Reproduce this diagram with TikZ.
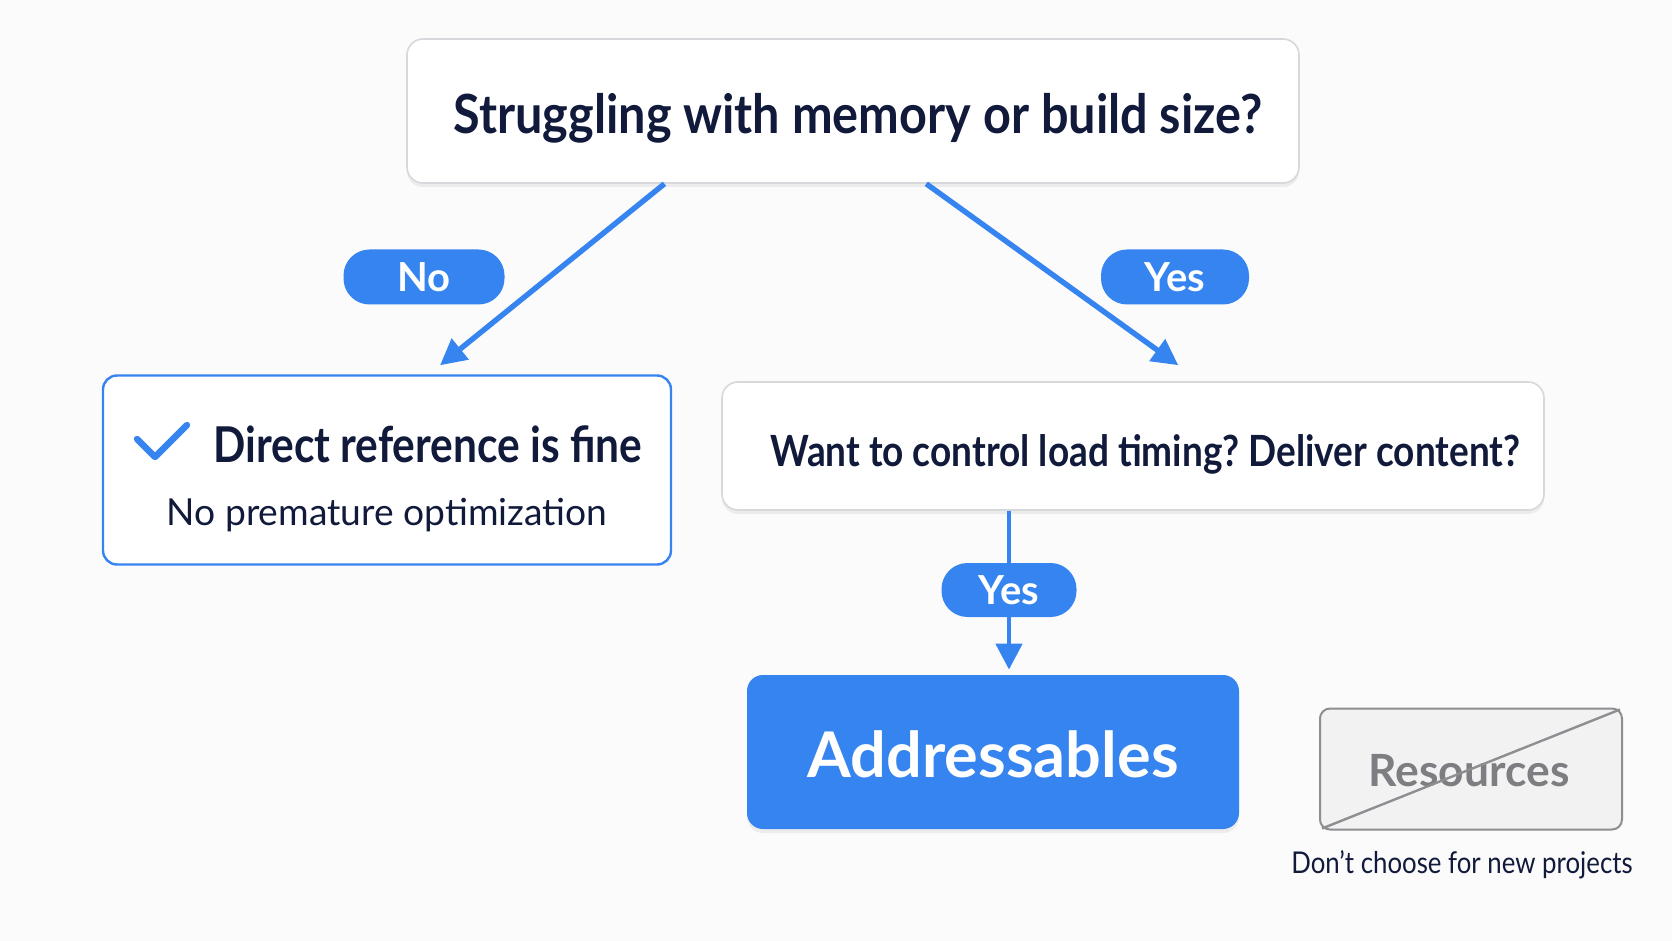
\documentclass[tikz,border=0pt]{standalone}
\usepackage{fontspec}
\setmainfont{Lato}
\newfontfamily\hdfont[FakeStretch=0.86]{Lato}
\newfontfamily\ttlfont[FakeStretch=0.9]{Lato}
\newfontfamily\bdfont{Lato}
\usetikzlibrary{arrows.meta,calc,shadows}
\definecolor{bg}{HTML}{FBFBFC}
\definecolor{accent}{HTML}{3584F0}
\definecolor{navy}{HTML}{111A3B}
\definecolor{boxline}{HTML}{D6D8DC}
\definecolor{resfill}{HTML}{F2F2F3}
\definecolor{resline}{HTML}{8E8E92}
\definecolor{restext}{HTML}{7E7E82}
\tikzset{
  qbox/.style={draw=boxline, line width=0.8pt, fill=white, rounded corners=8pt,
    drop shadow={opacity=0.12, shadow xshift=0pt, shadow yshift=-2pt}},
  pill/.style={fill=accent, rounded corners=13pt, text=white, font=\bdfont\bfseries\fontsize{20}{24}\selectfont, inner sep=0pt},
  flow/.style={draw=accent, line width=2.7pt, -{Triangle[length=13pt,width=13pt]}},
  txt/.style={text=navy, inner sep=0pt},
}
\begin{document}
\frenchspacing
\begin{tikzpicture}[x=0.5pt,y=-0.5pt]
\useasboundingbox[fill=bg] (0,0) rectangle (1672,941);

% top question
\node[qbox, minimum width=446pt, minimum height=72pt] (top) at (853,111) {};
\node[txt, font=\ttlfont\bfseries\fontsize{27}{32}\selectfont] (toptxt) at (858,118) {Struggling with memory or build size?};

% left result
\node[draw=accent, line width=1.2pt, fill=white, rounded corners=7pt, minimum width=284pt, minimum height=94.5pt] (left) at (387,470) {};
\draw[accent, line width=3.2pt, line cap=round, line join=round] (137,439) -- (155,457) -- (187,425);
\node[txt, anchor=west, font=\hdfont\bfseries\fontsize{24.7}{29}\selectfont] (dirtxt) at (213,444) {Direct reference is fine};
\node[txt, font=\fontsize{18.6}{22}\selectfont] (noprem) at (387,515) {No premature optimization};

% right question
\node[qbox, minimum width=411pt, minimum height=64pt] (q2) at (1133,446) {};
\node[txt, anchor=west, font=\hdfont\bfseries\fontsize{21.5}{25}\selectfont] (q2txt) at (770,454) {Want to control load timing? Deliver content?};

% Addressables
\node[fill=accent, rounded corners=8pt, minimum width=246pt, minimum height=77pt,
  drop shadow={opacity=0.12, shadow xshift=0pt, shadow yshift=-2pt}] (addr) at (993,752) {};
\node[text=white, inner sep=0pt, font=\bdfont\bfseries\fontsize{31.5}{36}\selectfont] (addrtxt) at (993,754) {Addressables};

% Resources (crossed out)
\node[draw=resline, line width=1pt, fill=resfill, rounded corners=5pt, minimum width=151pt, minimum height=60.5pt] (res) at (1471,769) {};
\node[text=restext, inner sep=0pt, font=\bdfont\bfseries\fontsize{22.2}{26}\selectfont] (restxt) at (1469,771) {Resources};
\draw[resline, line width=1.2pt] ($(res.south west)+(3,-2)$) -- ($(res.north east)+(-3,2)$);
\node[txt, font=\hdfont\fontsize{15}{18}\selectfont] (dont) at (1462,865) {Don’t choose for new projects};

% connectors
\coordinate (s1) at ($(top.south west)!0.289!(top.south east)$);
\coordinate (e1) at ($(left.north west)!0.593!(left.north east)+(0,-9)$);
\coordinate (s2) at ($(top.south west)!0.582!(top.south east)$);
\coordinate (e2) at ($(q2.north west)!0.555!(q2.north east)+(0,-16)$);
\draw[flow] (s1) -- (e1);
\draw[flow] (s2) -- (e2);

\node[pill, minimum width=80.5pt, minimum height=27.5pt] (no) at (424,277) {No};
\node[pill, minimum width=74pt, minimum height=27.5pt] (yes1) at (1175,277) {Yes};

\coordinate (vx) at (1009,590);
\draw[flow, line width=2.4pt] (q2.south -| vx) -- ($(addr.north -| vx)+(0,-5)$);
\node[pill, minimum width=67.5pt, minimum height=27pt] (yes2) at (vx) {Yes};
\end{tikzpicture}
\end{document}
